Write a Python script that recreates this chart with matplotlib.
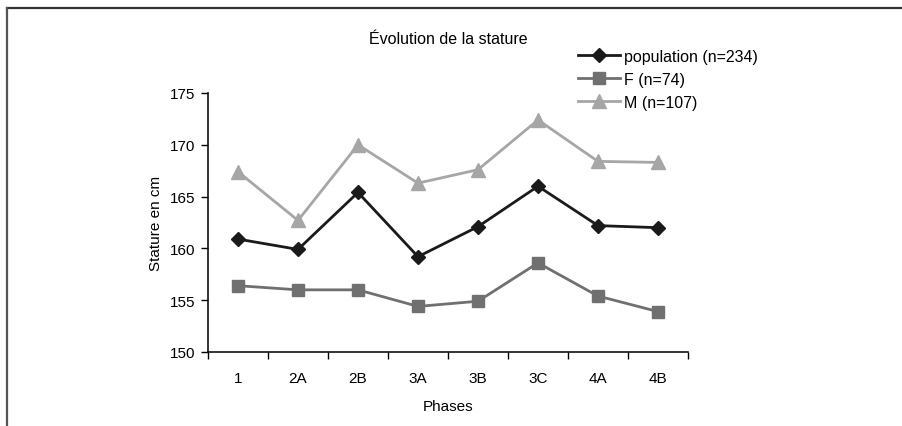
import matplotlib
matplotlib.use("Agg")
import matplotlib.pyplot as plt
from matplotlib.lines import Line2D

plt.rcParams['font.family'] = ['Liberation Sans', 'DejaVu Sans']

phases = ['1', '2A', '2B', '3A', '3B', '3C', '4A', '4B']
population = [160.9, 159.9, 165.4, 159.2, 162.1, 166.0, 162.2, 162.0]
femmes = [156.4, 156.0, 156.0, 154.4, 154.9, 158.6, 155.4, 153.9]
hommes = [167.4, 162.7, 170.0, 166.3, 167.6, 172.4, 168.4, 168.3]
labels = ['population (n=234)', 'F (n=74)', 'M (n=107)']

W, H = 902, 427
fig = plt.figure(figsize=(W / 100, H / 100), dpi=100)
ax = fig.add_axes([208 / W, 1 - 353 / H, 480 / W, (353 - 94) / H])

x = list(range(len(phases)))
ax.plot(x, population, color='#1a1a1a', lw=2, marker='D', ms=7, label=labels[0], zorder=3)
ax.plot(x, femmes, color='#707070', lw=2, marker='s', ms=9, label=labels[1], zorder=3)
ax.plot(x, hommes, color='#a6a6a6', lw=2, marker='^', ms=10, label=labels[2], zorder=3)

ax.set_xlim(-0.5, len(phases) - 0.5)
ax.set_ylim(150, 175)
ax.set_yticks([150, 155, 160, 165, 170, 175])
ax.set_xticks(x)
ax.set_xticklabels(phases)
ax.set_xticks([i - 0.5 for i in range(len(phases) + 1)], minor=True)
ax.tick_params(axis='x', which='major', length=0, pad=14, labelsize=11)
ax.tick_params(axis='x', which='minor', length=5, width=1, direction='out')
ax.tick_params(axis='y', length=5, width=1, labelsize=11, pad=4)
for s in ['top', 'right']:
    ax.spines[s].set_visible(False)
for s in ['left', 'bottom']:
    ax.spines[s].set_color('#111111')
    ax.spines[s].set_linewidth(1.2)

ax.set_ylabel('Stature en cm', fontsize=11, labelpad=5)
ax.set_xlabel('Phases', fontsize=11, labelpad=10)

fig.text(448 / W, 1 - 40 / H, 'Évolution de la stature', ha='center', va='center', fontsize=11.5)

leg = fig.legend(loc='upper left', bbox_to_anchor=(578 / W, 1 - 50 / H), frameon=False,
                 fontsize=11.5, handlelength=2.6, handletextpad=0.25, labelspacing=0.5,
                 borderaxespad=0, borderpad=0)

# outer border (top and left)
fig.add_artist(Line2D([7 / W, 1], [1 - 8.5 / H, 1 - 8.5 / H], color='#333333', lw=1.6,
                      transform=fig.transFigure))
fig.add_artist(Line2D([7.5 / W, 7.5 / W], [0, 1 - 8.5 / H], color='#555555', lw=1.6,
                      transform=fig.transFigure))

fig.savefig('out.png', dpi=100)
